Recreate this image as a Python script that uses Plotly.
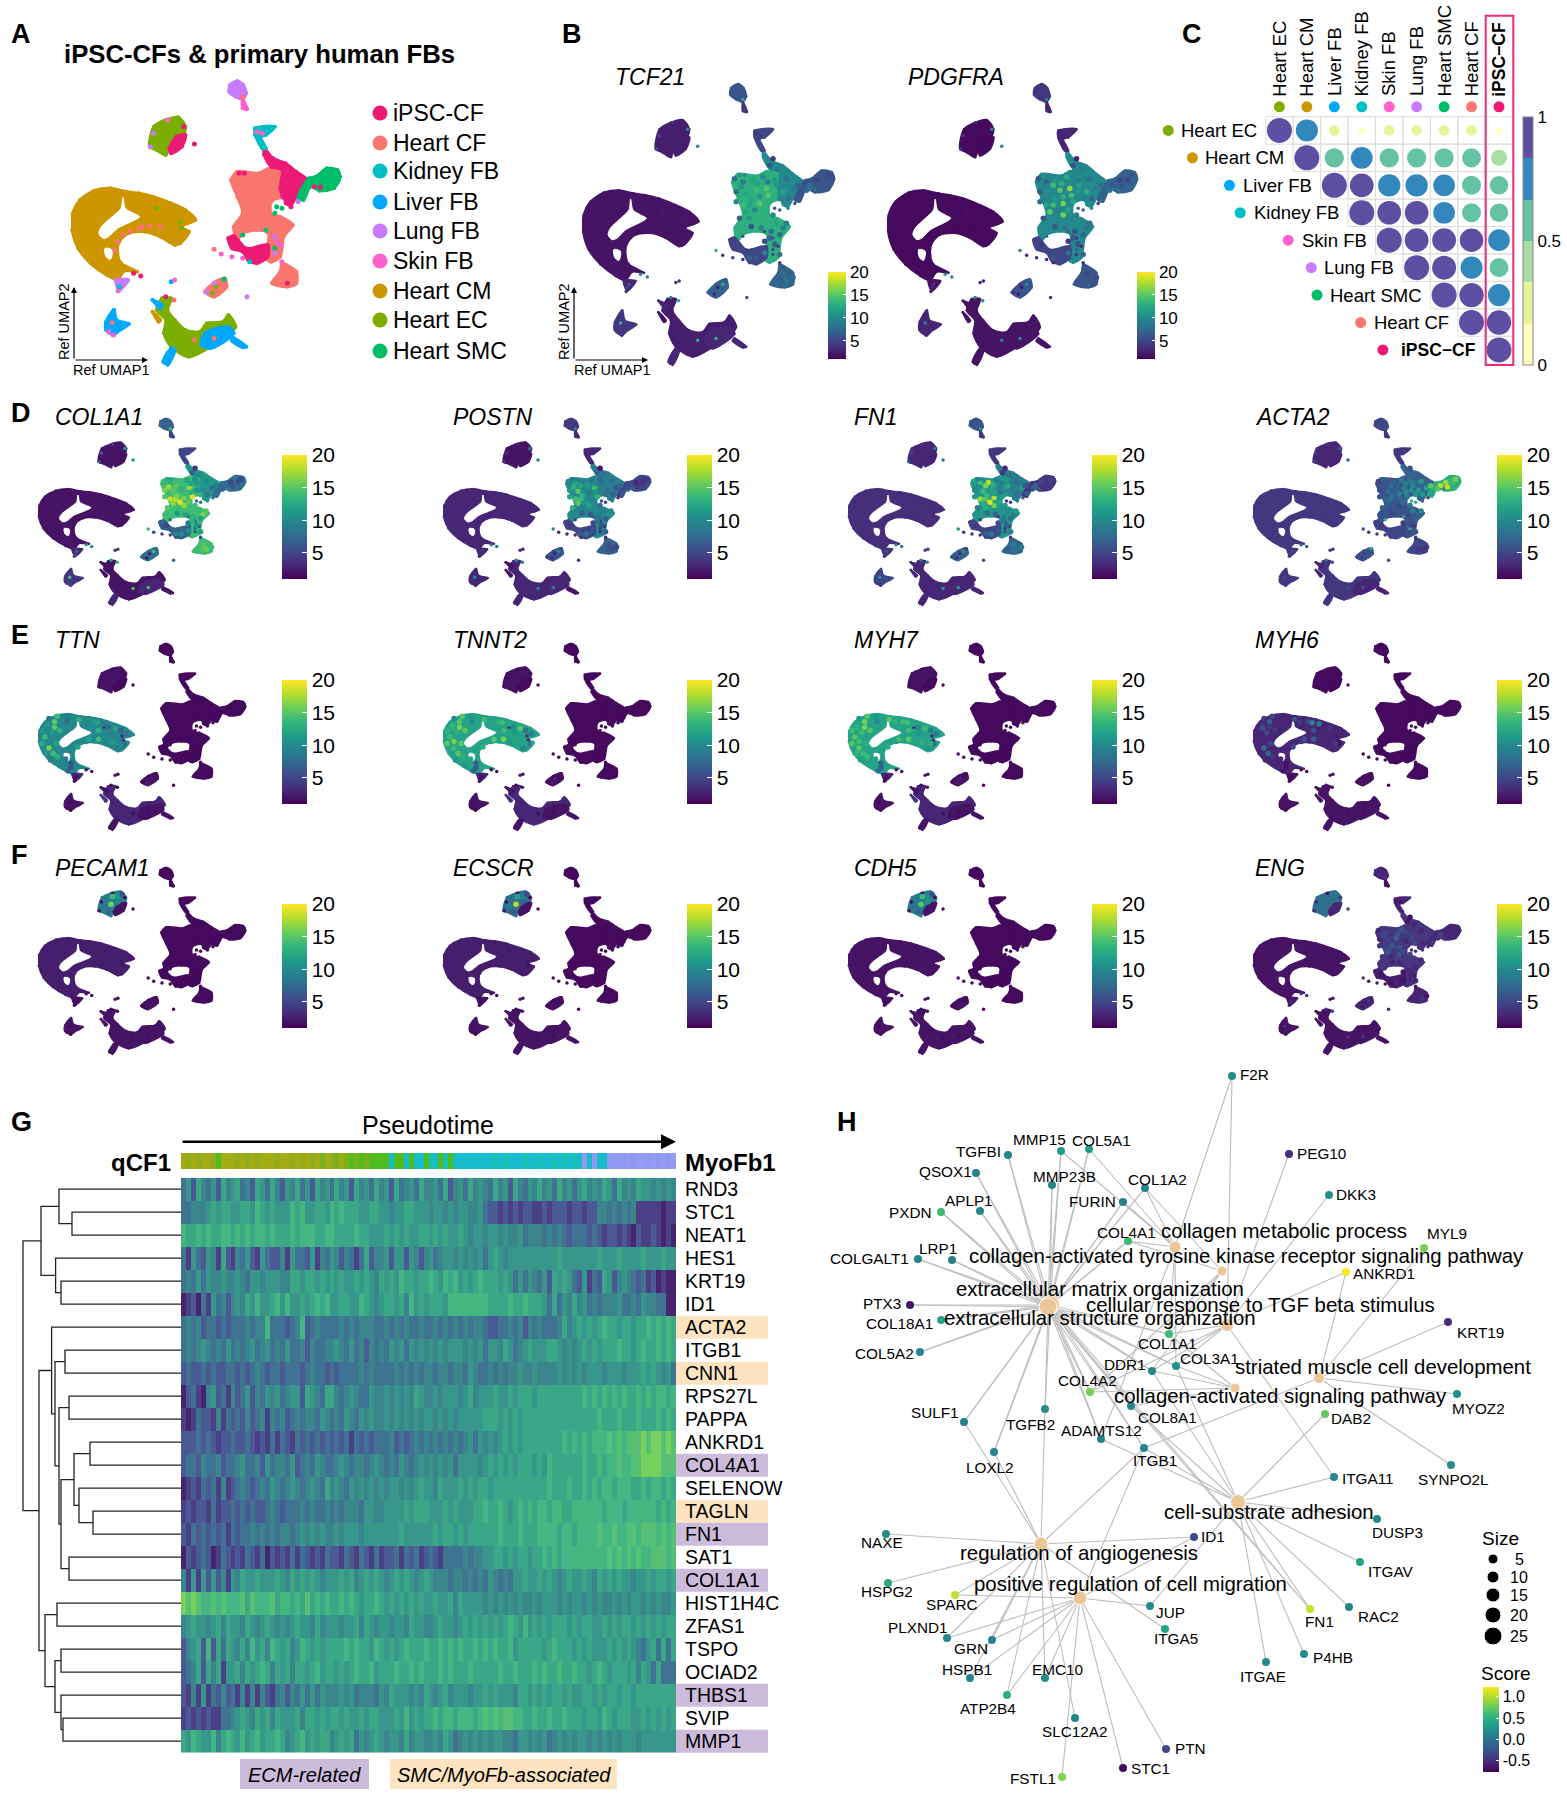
import plotly.graph_objects as go
from plotly.colors import sample_colorscale

W, H = 1567, 1800
FONT = "Liberation Sans"

# ---- UMAP regions (Ref UMAP coordinates) ----
cm_x = [355,310,265,225,205,203,220,255,300,330,350,385,340,330,335,360,405,450,490,505,530,505,548,520,480,430,390]
cm_y = [575,565,572,600,640,690,745,790,825,838,812,815,790,760,725,700,695,710,735,730,695,680,660,630,610,590,580]
hole_x = [345,340,310,285,278,290,305,330,375,392,375,352]
hole_y = [592,625,655,680,700,715,710,685,662,650,640,625]
hole2_x = [295,315,310,298]
hole2_y = [745,750,778,770]
hole3_x = [765,792,785,765]
hole3_y = [608,600,640,640]
cf_x = [648,665,725,750,785,795,760,785,820,795,785,760,745,752,720,680,665,655,680,665]
cf_y = [540,515,520,507,510,590,640,650,675,710,770,785,775,700,690,700,720,680,640,590]
ipsc_up_x = [740,765,800,830,865,830,815,800,785,790,760,740]
ipsc_up_y = [445,475,490,515,545,590,615,610,565,510,500,465]
ipsc_low_x = [640,655,690,750,750,720,695,680,650]
ipsc_low_y = [715,708,745,735,770,790,780,755,745]
smc_x = [885,915,945,953,935,895,870,850,835,865]
smc_y = [530,505,510,530,565,572,560,600,595,535]
kidney_x = [715,770,745,730,745,735,715]
kidney_y = [385,380,405,410,445,445,405]
lung_x = [645,665,682,690,680,660,642]
lung_y = [255,243,255,280,297,290,275]
skin_tail_x = [680,692,680]
skin_tail_y = [297,328,325]
ec_top_x = [432,465,500,520,510,475,465,440,420]
ec_top_y = [380,360,352,380,410,440,465,450,440]
ipsc_top_x = [495,520,510,480,475]
ipsc_top_y = [410,405,440,460,445]
cf_low_x = [790,802,830,830,805,762,785]
cf_low_y = [790,795,815,850,860,850,815]
mid_x = [575,605,630,635,600]
mid_y = [875,845,835,860,890]
ec_bot_x = [455,480,470,490,520,560,580,625,640,660,640,590,530,480,460,465,440]
ec_bot_y = [895,895,930,960,990,995,970,965,945,980,1005,1040,1070,1040,1000,960,930]
liver_r_x = [575,640,655,590,565]
liver_r_y = [1000,980,1000,1045,1035]
liver_tail_x = [655,690,680,650]
liver_tail_y = [1015,1040,1042,1022]
liver_low_x = [480,490,470,458]
liver_low_y = [1045,1050,1095,1085]
liver_blob_x = [320,328,362,330,320,298,298]
liver_blob_y = [930,960,972,995,1005,990,965]
cm_tip_x = [325,360,335]
cm_tip_y = [840,840,870]
liver_nub_x = [428,455,450]
liver_nub_y = [900,915,925]
cm_nub_x = [428,450,445]
cm_nub_y = [935,960,965]

REGION_X = [cm_x, cf_x, ipsc_up_x, ipsc_low_x, smc_x, kidney_x, lung_x, skin_tail_x, ec_top_x, ipsc_top_x,
            cf_low_x, mid_x, ec_bot_x, liver_r_x, liver_tail_x, liver_low_x, liver_blob_x, cm_tip_x, liver_nub_x, cm_nub_x]
REGION_Y = [cm_y, cf_y, ipsc_up_y, ipsc_low_y, smc_y, kidney_y, lung_y, skin_tail_y, ec_top_y, ipsc_top_y,
            cf_low_y, mid_y, ec_bot_y, liver_r_y, liver_tail_y, liver_low_y, liver_blob_y, cm_tip_y, liver_nub_y, cm_nub_y]
REGION_CLUSTER = ["Heart CM", "Heart CF", "iPSC-CF", "iPSC-CF", "Heart SMC", "Kidney FB", "Lung FB", "Skin FB", "Heart EC", "iPSC-CF",
                  "Heart CF", "Heart CF", "Heart EC", "Liver FB", "Liver FB", "Liver FB", "Liver FB", "Lung FB", "Liver FB", "Heart CM"]
HOLES = [(hole_x, hole_y), (hole2_x, hole2_y), (hole3_x, hole3_y)]

CLUSTERS = ["iPSC-CF", "Heart CF", "Kidney FB", "Liver FB", "Lung FB", "Skin FB", "Heart CM", "Heart EC", "Heart SMC"]
CLUSTER_COLORS = ["#EB1A75", "#F8766D", "#00BFC4", "#00A9FF", "#C77CFF", "#FF61CC", "#CD9600", "#7CAE00", "#00BE67"]
COLOR_OF = dict(zip(CLUSTERS, CLUSTER_COLORS))
COLOR_OF["CM arc"] = "#F8766D"
# which region value a stray cell takes in the feature plots
REGION_OF = {"Heart CM": 0, "CM arc": 0, "Heart CF": 1, "iPSC-CF": 2, "Heart SMC": 4, "Kidney FB": 5, "Lung FB": 6, "Skin FB": 7, "Heart EC": 12, "Liver FB": 16}

# stray cells around the clusters
stray_x = [545,515,680,690,735,600,620,650,680,700,692,480,490,670,685,880,897,815,835,775,770,790,680,745,770,775,770,770,785,790,805,375,395,340,332,335,315,305,318,465,488,545,600,510,450,400,345,365,390,420,330,322,605,595,620,628,580,600,430,422,470,720,440,505]
stray_y = [432,380,290,325,400,748,762,770,775,785,890,845,840,520,520,560,562,620,605,620,640,625,705,690,710,725,745,760,735,785,850,820,828,850,872,860,968,995,1005,890,900,1020,1015,685,680,680,705,695,685,678,725,750,860,880,850,838,875,850,400,440,360,395,625,665]
stray_cluster = ["iPSC-CF","iPSC-CF","Heart CF","Skin FB","Skin FB","Heart CF","Skin FB","Skin FB","Skin FB","Kidney FB","Lung FB","Liver FB","Skin FB","iPSC-CF","iPSC-CF","iPSC-CF","iPSC-CF","iPSC-CF","Lung FB","Heart SMC","Heart SMC","Heart SMC","Heart SMC","Heart SMC","Lung FB","Skin FB","Heart SMC","Lung FB","Skin FB","Skin FB","iPSC-CF","iPSC-CF","iPSC-CF","Lung FB","Skin FB","Kidney FB","Heart CF","Skin FB","Skin FB","iPSC-CF","Heart CF","Heart CF","Heart CF","Heart EC","CM arc","CM arc","CM arc","CM arc","CM arc","CM arc","CM arc","CM arc","Heart EC","Heart EC","Heart CF","Heart SMC","Lung FB","Lung FB","Lung FB","Lung FB","Skin FB","Skin FB","Heart EC","Heart EC"]

# ---- feature plots: expression per region ----
tcf21_vals = [2,13,10,5,6,5,6,4,2.5,2.5,7,7,2.5,3,3,3,4,3,3,2]
pdgfra_vals = [1.5,10,10,5,7,3,4,3,1.5,1.5,6,6,2,2,2,2,3,2,2,2]
col1a1_vals = [2,14,11,7,8,5,7,5,2,2,14,8,2,3,2,3,4,3,2,2]
postn_vals = [3,10,9,5,5,3,4,3,2,2,7,6,3,3,2,3,3,3,2,2]
fn1_vals = [3.5,11,9,5,4,4,6,4,3,3,7,7,3,3,3,3,5,4,3,3]
acta2_vals = [4,6,7,5,13,4,5,4,3,3,5,6,4,3,3,4,4,4,3,3]
ttn_vals = [10,1.5,1.5,1.5,1.5,1.5,1.5,1.5,2,1.5,1.5,2,3,2,2,2,2,3,2,4]
tnnt2_vals = [12,1.5,1.5,1.5,1.5,1.5,1.5,1.5,2,1.5,1.5,2,3,2,2,2,2,3,2,4]
myh7_vals = [12,1.5,1.5,1.5,1.5,1.5,1.5,1.5,2,1.5,1.5,2,3,2,2,2,2,3,2,4]
myh6_vals = [3,1.5,1.5,1.5,1.5,1.5,1.5,1.5,1.5,1.5,1.5,2,2,2,2,2,2,2,2,2]
pecam1_vals = [2.5,1.5,1.5,1.5,1.5,1.5,1.5,1.5,9,2,1.5,2,2,2,2,2,2,2,2,2]
ecscr_vals = [2.5,1.5,1.5,1.5,1.5,1.5,1.5,1.5,8,2,1.5,2,2,2,2,2,2,2,2,2]
cdh5_vals = [2,1.5,1.5,1.5,1.5,1.5,1.5,1.5,9,2,1.5,2,2,2,2,2,2,2,2,2]
eng_vals = [2,4,4,2.5,3,3,3,2,8,3,3,3,2,2,2,2,2,2,2,2]

fb_spot_x = [680,710,740,770,660,690,720,750,780,810,830,700,730,760,790,670,700,730,770,800,705,735,765,745,775,790,800,810,845,880,900,925,770,785,
             655,675,700,725,755,775,660,680,705,730,755,775,800,815,690,715,745,780,810,790,760,745,800,830,850,870,905,935,760,720,700,665]
fb_spot_y = [540,535,525,520,570,575,565,560,550,530,560,610,605,600,590,650,650,640,640,680,675,680,690,720,730,760,820,840,550,550,535,535,470,500,
             530,555,550,545,540,535,600,610,595,585,580,570,570,590,630,625,625,665,665,700,710,755,845,830,585,565,555,520,490,770,770,730]
cm_spot_x = [235,260,290,225,250,280,305,240,265,240,270,300,320,350,400,440,480,520,375,420,470,510,420,460,500,345,
             215,240,270,300,215,235,260,230,255,245,280,310,370,415,455,500,385,440,490,320]
cm_spot_y = [620,600,585,670,650,640,600,720,700,690,760,770,810,590,600,610,630,655,690,680,695,700,640,650,700,715,
             640,585,575,575,700,630,625,745,745,775,800,825,600,605,625,640,680,690,720,790]
ec_spot_x = [450,470,490,440,465,490,455,505]
ec_spot_y = [385,375,375,420,410,400,445,365]

tcf21_spots = [9,12,10,13,8,12,14,15,11,8,9,12,15,13,10,7,11,13,10,9,6,9,8,5,7,8,8,9,7,8,5,6,4,9,
               8,11,13,12,9,11,10,14,12,11,15,13,12,8,12,10,13,12,9,8,7,9,7,8,6,7,6,5,6,6,7,5]
pdgfra_spots = [7,11,13,10,7,10,15,17,12,8,9,14,16,12,9,6,10,16,9,8,6,8,6,4,6,7,5,6,8,6,5,5,3,9,
                6,9,14,13,10,9,8,12,11,13,14,11,13,7,15,9,12,10,8,7,6,8,6,5,7,8,6,6,6,5,6,4]
col1a1_spots = [13,14,12,10,16,15,13,17,12,10,8,18,16,19,13,15,14,17,14,16,11,12,13,9,11,12,15,16,9,8,5,6,4,10,
                14,17,15,14,12,11,15,18,16,14,13,11,10,9,17,19,15,14,15,12,13,10,15,14,8,7,6,5,7,10,9,5]
postn_spots = [12,9,8,7,11,15,10,14,9,8,6,14,10,13,8,13,9,12,8,11,7,6,8,5,6,7,6,5,7,6,3,4,2,8,
               10,13,12,11,10,8,12,14,13,9,11,9,8,7,15,11,10,9,10,7,8,6,6,5,6,6,4,4,7,8,6,4]
fn1_spots = [14,18,9,11,10,14,12,9,13,8,11,15,18,12,10,9,13,16,11,9,8,7,9,5,7,9,9,8,6,7,5,4,3,8,
             12,10,16,13,9,11,11,17,14,12,8,10,9,8,13,19,12,10,11,8,9,6,8,9,7,6,4,5,4,8,7,4]
acta2_spots = [6,7,9,8,5,8,7,9,10,11,12,8,7,9,11,7,6,5,8,7,5,6,5,4,5,6,5,4,15,18,17,14,6,7,
               5,6,8,7,9,9,6,7,8,9,10,10,11,11,7,6,8,9,10,7,6,5,4,4,12,15,18,16,7,5,5,4]
eng_spots = [5,4,6,4,3,5,7,4,5,3,4,5,6,4,5,4,3,6,5,4,3,3,4,2,3,3,3,4,4,5,3,3,2,3,
             3,5,4,6,5,4,4,5,6,4,3,5,4,3,6,4,5,4,3,3,3,2,3,2,4,4,3,3,2,3,2,2]
ttn_spots = [12,15,10,14,11,13,8,16,12,10,13,9,6,13,11,9,12,8,10,14,11,7,13,9,10,12,
             11,8,14,9,13,10,15,11,14,9,10,7,10,12,8,7,12,10,9,6]
tnnt2_spots = [14,15,12,14,13,15,10,14,15,16,13,12,7,14,13,12,15,9,12,16,12,8,14,11,12,13,
               13,10,15,11,15,13,16,12,15,11,11,7,12,14,10,8,15,11,10,7]
myh7_spots = [13,16,12,15,14,15,10,15,13,14,14,12,7,15,14,12,14,9,12,15,13,8,14,11,13,13,
              14,11,15,11,15,13,16,13,14,12,12,8,13,14,10,9,14,12,11,7]
myh6_spots = [4,7,3,3,5,4,3,8,5,3,4,3,2,6,5,9,4,3,4,7,3,2,6,3,4,5,
              3,4,5,3,3,6,4,3,7,3,3,2,4,9,3,3,6,3,3,2]
pecam1_spots = [9,14,11,8,16,10,7,6]
ecscr_spots = [8,12,9,9,18,7,6,5]
cdh5_spots = [9,14,10,8,15,11,7,6]

# ---- panel C: correlation ----
corr_labels = ["Heart EC", "Heart CM", "Liver FB", "Kidney FB", "Skin FB", "Lung FB", "Heart SMC", "Heart CF", "iPSC\u2212CF"]
corr_clusters = ["Heart EC", "Heart CM", "Liver FB", "Kidney FB", "Skin FB", "Lung FB", "Heart SMC", "Heart CF", "iPSC-CF"]
corr_rows = [
    [1.0, .78, .18, .07, .18, .17, .18, .18, .07],
    [1.0, .6, .76, .6, .6, .6, .58, .42],
    [1.0, .9, .8, .8, .75, .58, .55],
    [1.0, .9, .9, .75, .58, .55],
    [1.0, .9, .9, .88, .75],
    [1.0, .92, .78, .58],
    [1.0, .95, .78],
    [1.0, .95],
    [1.0],
]
corr_dot_offset = [3.55, 3.67, 3.32, 3.93, 3.18, 3.34, 4.13, 3.54, 3.73]
corr_bins = ["#FFFFBF", "#E6F598", "#ABDDA4", "#66C2A5", "#3288BD", "#5E4FA2"]

# ---- panel G: pseudotime heatmap ----
genes_g = ["RND3","STC1","NEAT1","HES1","KRT19","ID1","ACTA2","ITGB1","CNN1","RPS27L","PAPPA","ANKRD1","COL4A1",
           "SELENOW","TAGLN","FN1","SAT1","COL1A1","HIST1H4C","ZFAS1","TSPO","OCIAD2","THBS1","SVIP","MMP1"]
smc_genes = ["ACTA2", "CNN1", "TAGLN"]
ecm_genes = ["COL4A1", "FN1", "COL1A1", "THBS1", "MMP1"]
heat_rows = [
    "3526435264 5634265364 2546352645 3645264536 4526345364 4536245364 5436452643 5464536453 5645465364 5465545454",
    "3344456566 5566576565 5576755665 7676665566 5545566555 4554545544 5322121212 2112122212 2122443434 3411111011",
    "7667676677 6767677676 6676777667 7666676655 5656565566 5656556545 5455454453 4443434323 3323212212 1021121010",
    "3153254162 1435215322 4153325143 5424313624 4525525424 5345545454 5356545555 5555556555 5555655565 5556555655",
    "3435354454 4543554555 4466566565 6565565654 6565766566 7657675656 7666565353 5435265653 2513265245 4323120100",
    "0120315342 4546575567 5755656767 5566557654 5665647565 6665777777 7766667667 6665363546 4534344453 3435443300",
    "3434233232 3334344733 3234723433 3343434443 3434343343 3434343434 4322334342 4343334645 6565676656 6566767676",
    "3434543435 3434534534 3533424334 4543534243 4354535454 5454555454 5355465345 6555665454 5656566676 6567667676",
    "2322323223 3232343233 2333234332 3233334343 3334343434 4344344354 3343434454 4544445454 5455545554 5556565453",
    "0231045231 4235243545 3455265436 6434543354 4545454654 4545554564 5556556566 6566666666 6767676767 6676767767",
    "1013221413 2324234143 4234344354 3435435454 4545454545 5454545555 5666565656 6666666666 6666766676 6676667676",
    "2223232122 3223212131 3213232323 2323132323 3342323434 3434343453 5454565656 6666666767 6767778787 8889899898",
    "2332433423 3453342534 4352343543 3454344345 4343543454 5454535555 4565656566 6565766666 6766767787 7889999888",
    "0121323141 2343234354 3454345436 4543545454 5455454565 5465556565 6656666666 6666766676 6767677677 7667677676",
    "1212213122 3232322343 2333434334 3434443554 4555565666 5556565556 6766765676 7677677667 7777767776 7777776767",
    "2132323231 3233434343 4434545454 4545554555 5555655555 5656656566 6666766676 6677776776 7777877877 8878887878",
    "0212320132 1213213021 2131321213 2213213213 1223132312 3213333434 4556656566 5667676777 7777778787 8787788878",
    "4151525241 5465565556 5465656545 5565645656 5456565456 5444344343 4354343556 5565654565 5654656565 5455656656",
    "9898778787 7786877786 7767686767 6676765667 6565656565 5655646555 5454545454 4545554545 5454544545 4554545445",
    "4565545646 5546545654 5456554645 5545564654 5545546554 4565545656 5656567657 5656566656 5665565656 6565656566",
    "2456272636 5464756476 5645765656 6667676657 6565676667 6676767667 6767667566 6665676665 6565556565 6543563636",
    "2346264615 5646567646 5646656756 6565676675 6667667676 6676766676 6666766766 6767667667 6656765666 5646536333",
    "2141513242 3141414213 4243535354 4454534443 5465554546 5456455545 5656555466 5656566565 5665656656 6566666666",
    "1212121133 4565465646 5556466565 6656556566 5556575656 6767767776 7878788776 6766766766 6566576566 6556565656",
    "6576557467 6575675667 6456756566 4565635456 5455464554 4546534545 4545544355 4545345454 5545454545 5545555555",
]
heat_colors = ["#46256F", "#4B3F85", "#4A5A95", "#3F7391", "#3B858C", "#38968A", "#3CA786", "#45B682", "#58C074", "#78D05C"]
pseudo_states = "0101001300 0101010001 0010101020 1202323233 3343343443 5435344444 4445454445 4454454545 4646446666 7677676767"
pseudo_colors = ["#A3AD12", "#93AA1C", "#78B01C", "#4EBC1C", "#16BCCB", "#1AC0B4", "#8F9AEE", "#939BF5"]

# merges: left node, right node, height. Leaves are rows 0-24, new nodes count on from 25.
dendro_merges = [(1,2,72),(0,25,59),(4,5,61),(3,27,55.6),(26,28,41),(7,8,65),(9,10,69),(11,12,90),(14,15,93),(13,33,79),
                 (32,34,74),(16,17,69),(35,36,61),(31,37,59),(30,38,55),(6,39,51.6),(18,19,57),(20,21,61),(23,24,63),
                 (22,43,61),(42,44,55),(41,45,45),(40,46,39),(29,47,23)]

# ---- panel H: gene-concept network ----
gene_nodes = {
    "F2R": (1232,1076,.25,1254,1074), "PEG10": (1289,1154,-.5,1321,1153), "DKK3": (1329,1195,.2,1356,1194),
    "MYL9": (1424,1248,.8,1447,1233), "ANKRD1": (1346,1272,1.22,1384,1273), "KRT19": (1448,1322,-.5,1480,1332),
    "MYOZ2": (1457,1394,.2,1478,1408), "DAB2": (1325,1414,.75,1351,1418), "SYNPO2L": (1451,1465,.2,1453,1479),
    "ITGA11": (1334,1477,.15,1368,1478), "COL5A1": (1089,1149,.35,1101,1140), "MMP15": (1061,1151,.35,1039,1139),
    "TGFBI": (1008,1155,.15,978,1151), "QSOX1": (976,1173,.15,945,1171), "MMP23B": (1052,1185,.15,1064,1176),
    "COL1A2": (1145,1188,.15,1157,1179), "FURIN": (1123,1202,.1,1092,1201), "APLP1": (980,1211,.15,969,1200),
    "PXDN": (941,1212,.6,910,1212), "COL4A1": (1128,1241,.6,1126,1232), "LRP1": (952,1260,.1,938,1248),
    "COLGALT1": (918,1259,.15,869,1258), "PTX3": (910,1305,-.65,882,1303), "COL18A1": (941,1320,.4,899,1323),
    "COL5A2": (920,1352,.15,884,1353), "COL1A1": (1169,1334,.6,1167,1343), "COL3A1": (1176,1366,.25,1209,1358),
    "DDR1": (1152,1371,.15,1125,1364), "COL4A2": (1090,1392,.8,1087,1380), "COL8A1": (1131,1406,.15,1167,1417),
    "TGFB2": (1045,1409,.2,1030,1424), "SULF1": (964,1422,.1,935,1412), "ADAMTS12": (1101,1439,.1,1101,1430),
    "ITGB1": (1144,1448,.15,1155,1460), "LOXL2": (994,1452,.15,990,1467), "NAXE": (886,1534,.2,882,1542),
    "HSPG2": (888,1583,.45,887,1591), "SPARC": (955,1595,1.05,952,1604), "PLXND1": (947,1638,.15,918,1627),
    "GRN": (992,1640,.15,971,1648), "HSPB1": (970,1678,.15,967,1669), "EMC10": (1045,1678,.2,1057,1669),
    "ATP2B4": (1007,1695,.5,988,1708), "SLC12A2": (1075,1718,.15,1074,1731), "FSTL1": (1062,1777,.85,1033,1778),
    "STC1": (1123,1768,-.72,1150,1768), "PTN": (1166,1749,-.3,1190,1748), "JUP": (1150,1606,.2,1170,1612),
    "ITGA5": (1165,1629,.4,1176,1638), "ID1": (1194,1537,-.3,1213,1536), "DUSP3": (1377,1519,.15,1397,1532),
    "ITGAV": (1360,1562,.4,1391,1571), "RAC2": (1349,1607,.15,1378,1616), "FN1": (1310,1609,1.05,1319,1621),
    "P4HB": (1304,1654,.2,1333,1657), "ITGAE": (1266,1662,.2,1263,1676),
}
term_names = ["collagen metabolic process", "collagen-activated tyrosine kinase receptor signaling pathway",
              "extracellular matrix organization", "extracellular structure organization",
              "cellular response to TGF beta stimulus", "striated muscle cell development",
              "collagen-activated signaling pathway", "cell-substrate adhesion",
              "regulation of angiogenesis", "positive regulation of cell migration"]
term_x = [1175,1222,1050,1048,1227,1319,1235,1238,1041,1080]
term_y = [1247,1271,1305,1307,1325,1378,1388,1502,1544,1598]
term_label_x = [1284,1246,1100,1100,1260,1383,1280,1269,1079,1130]
term_label_y = [1231,1256,1289,1318,1305,1367,1396,1512,1553,1584]
term_size = [12,10,19,18,13,11,10,15,14,14]

edges_metabolic = ["F2R","MMP15","COL5A1","FURIN","COL1A2","COL4A1","COL1A1","COL3A1","ADAMTS12"]
edges_tyrosine = ["COL1A2","COL4A1","COL1A1","DDR1","COL4A2"]
ecm_common = ["TGFBI","QSOX1","PXDN","APLP1","COLGALT1","LRP1","PTX3","COL18A1","COL5A2","MMP15","COL5A1","MMP23B","COL1A2",
              "FURIN","COL4A1","COL1A1","COL3A1","DDR1","COL4A2","COL8A1","TGFB2","SULF1","LOXL2","ADAMTS12","ITGB1","FN1"]
edges_tgf = ["PEG10","DKK3","ANKRD1","COL1A1","COL3A1","DDR1","ITGA11","COL4A2","F2R"]
edges_striated = ["MYL9","ANKRD1","KRT19","MYOZ2","SYNPO2L","ITGB1"]
edges_signaling = ["COL1A1","COL3A1","DDR1","COL4A2","COL8A1"]
edges_substrate = ["ITGB1","ITGA11","DUSP3","ITGAV","RAC2","FN1","P4HB","ITGAE","DAB2","JUP","DDR1","COL8A1","COL3A1","ADAMTS12"]
edges_angio = ["NAXE","HSPG2","SPARC","PLXND1","GRN","ATP2B4","SLC12A2","EMC10","ITGB1","LOXL2","SULF1","TGFB2","ID1","ITGA5","HSPB1"]
edges_migration = ["SPARC","PLXND1","GRN","HSPB1","EMC10","ATP2B4","FSTL1","STC1","PTN","JUP","ID1","ITGB1"]
term_edges = [edges_metabolic, edges_tyrosine, ecm_common, ecm_common, edges_tgf, edges_striated,
              edges_signaling, edges_substrate, edges_angio, edges_migration]

size_legend = [5, 10, 15, 20, 25]
size_legend_y = [1559, 1577, 1595, 1615, 1636]
size_legend_d = [10, 12, 14, 16, 18]

# ---- helpers ----
fig = go.Figure()
annotations = []
shapes = []
axis_count = 0


def new_axes(x0, x1, y0, y1, xrange, yrange):
    global axis_count
    axis_count += 1
    n = axis_count
    hidden = dict(visible=False, fixedrange=True)
    fig.update_layout({
        f"xaxis{n}": dict(domain=[x0 / W, x1 / W], range=xrange, anchor=f"y{n}", **hidden),
        f"yaxis{n}": dict(domain=[1 - y1 / H, 1 - y0 / H], range=yrange, anchor=f"x{n}", **hidden),
    })
    return f"x{n}", f"y{n}"


def add_text(x, y, s, size=14, anchor="left", color="black", **kw):
    if anchor == "left":
        x -= 1.5
    annotations.append(dict(x=x / W, y=1 - y / H, xref="paper", yref="paper", text=s, showarrow=False,
                            xanchor=anchor, yanchor="middle", font=dict(size=size, family=FONT, color=color), **kw))


def add_arrow(x, y, dx, dy, width=1.2, size=1.0):
    annotations.append(dict(x=x / W, y=1 - y / H, xref="paper", yref="paper", text="", showarrow=True,
                            axref="pixel", ayref="pixel", ax=dx, ay=dy, arrowhead=2, arrowwidth=width,
                            arrowsize=size, arrowcolor="black"))


def add_region(xa, ya, xs, ys, color, lw, ms):
    fig.add_trace(go.Scatter(x=xs + xs[:1], y=ys + ys[:1], xaxis=xa, yaxis=ya, mode="lines+markers", fill="toself",
                             fillcolor=color, line=dict(color=color, width=lw, shape="spline", smoothing=0.8),
                             marker=dict(size=ms, color=color), hoverinfo="skip", showlegend=False, cliponaxis=False))


def viridis(v):
    return sample_colorscale("Viridis", [(v - 1) / 19])[0]


UMAP_XR = [200, 955]
UMAP_YR = [1095, 240]


def feature_panel(rect, vals, spot_x, spot_y, spots, cbar_x, cbar_y, cbar_len, thick, tick_size, ms, lw):
    xa, ya = new_axes(rect[0], rect[1], rect[2], rect[3], UMAP_XR, UMAP_YR)
    for xs, ys, v in zip(REGION_X, REGION_Y, vals):
        add_region(xa, ya, xs, ys, viridis(v), lw, ms)
    for hx, hy in HOLES:
        add_region(xa, ya, hx, hy, "white", 1, 0.1)
    fig.add_trace(go.Scatter(x=stray_x, y=stray_y, xaxis=xa, yaxis=ya, mode="markers", hoverinfo="skip", showlegend=False,
                             marker=dict(size=ms + 1, color=[viridis(vals[REGION_OF[c]]) for c in stray_cluster]),
                             cliponaxis=False))
    fig.add_trace(go.Scatter(
        x=spot_x, y=spot_y, xaxis=xa, yaxis=ya, mode="markers", hoverinfo="skip", showlegend=False, cliponaxis=False,
        marker=dict(size=ms + 3, color=spots, cmin=1, cmax=20, colorscale="Viridis", showscale=True,
                    colorbar=dict(x=cbar_x / W, xanchor="left", y=1 - cbar_y / H, yanchor="top", len=cbar_len, lenmode="pixels",
                                  thickness=thick, thicknessmode="pixels", outlinewidth=0, borderwidth=0, xpad=0, ypad=0,
                                  tickvals=[5, 10, 15, 20], ticks="inside", ticklen=thick // 5, tickcolor="white",
                                  tickfont=dict(size=tick_size, family=FONT, color="black")))))


# ---- A ----
add_text(10, 34, "<b>A</b>", 27)
add_text(63, 54, "<b>iPSC-CFs &amp; primary human FBs</b>", 25.7)
xa, ya = new_axes(71, 341, 80, 365, UMAP_XR, UMAP_YR)
for xs, ys, c in zip(REGION_X, REGION_Y, REGION_CLUSTER):
    add_region(xa, ya, xs, ys, COLOR_OF[c], 3, 4)
for hx, hy in HOLES:
    add_region(xa, ya, hx, hy, "white", 1, 0.1)
fig.add_trace(go.Scatter(x=stray_x, y=stray_y, xaxis=xa, yaxis=ya, mode="markers", hoverinfo="skip", showlegend=False,
                         marker=dict(size=5, color=[COLOR_OF[c] for c in stray_cluster]), cliponaxis=False))
legend_y = [113, 143, 171, 202, 231, 261, 291, 320, 351]
xa, ya = new_axes(370, 390, 90, 370, [370, 390], [370, 90])
fig.add_trace(go.Scatter(x=[380] * 9, y=legend_y, xaxis=xa, yaxis=ya, mode="markers", hoverinfo="skip", showlegend=False,
                         marker=dict(size=15, color=CLUSTER_COLORS)))
for y, name in zip(legend_y, CLUSTERS):
    add_text(392, y, name, 23)
for ox, lx, ly, tx in [(74, 111, 322, 64), (574, 612, 322, 564)]:
    add_arrow(ox + 74, 360, -74, 0)
    add_arrow(ox, 287, 0, 73)
    add_text(lx, 370, "Ref UMAP1", 14.5, "center")
    add_text(tx, ly, "Ref UMAP2", 14.5, "center", textangle=-90)

# ---- B ----
add_text(561, 34, "<b>B</b>", 27)
add_text(614, 77, "<i>TCF21</i>", 23)
add_text(907, 77, "<i>PDGFRA</i>", 23)
feature_panel((582, 835, 83, 365), tcf21_vals, fb_spot_x, fb_spot_y, tcf21_spots, 828, 272, 87, 18, 17, 2.5, 2)
feature_panel((887, 1138, 83, 365), pdgfra_vals, fb_spot_x, fb_spot_y, pdgfra_spots, 1137, 272, 87, 18, 17, 2.5, 2)

# ---- C ----
add_text(1181, 34, "<b>C</b>", 27)
CELL = 27.444
xa, ya = new_axes(1150, 1512.7, 0, 363.7, [-0.5 - (1265.7 - 1150) / CELL, 8.5], [8.5, -0.5 - 116.7 / CELL])
dot_x, dot_y, dot_v = [], [], []
for i, row in enumerate(corr_rows):
    for k, v in enumerate(row):
        j = i + k
        dot_x.append(j)
        dot_y.append(i)
        dot_v.append(v)
        shapes.append(dict(type="rect", xref=xa, yref=ya, x0=j - .5, x1=j + .5, y0=i - .5, y1=i + .5,
                           line=dict(color="#DDDDDD", width=1), layer="below"))
bin_scale = []
for k, c in enumerate(corr_bins):
    bin_scale += [[k / 6, c], [(k + 1) / 6, c]]
fig.add_trace(go.Scatter(
    x=dot_x, y=dot_y, xaxis=xa, yaxis=ya, mode="markers", hoverinfo="skip", showlegend=False, cliponaxis=False,
    marker=dict(size=dot_v, sizemode="area", sizeref=0.0032, opacity=1, color=dot_v, cmin=0, cmax=1, colorscale=bin_scale, line=dict(width=0),
                showscale=True,
                colorbar=dict(x=1523 / W, xanchor="left", y=1 - 117 / H, yanchor="top", len=248, lenmode="pixels", thickness=9.5,
                              thicknessmode="pixels", outlinewidth=1, outlinecolor="#888888", xpad=0, ypad=0,
                              tickvals=[0, .5, 1], ticktext=["0", "0.5", "1"], ticks="",
                              tickfont=dict(size=17, family=FONT, color="black")))))
# cluster dots along both margins of the triangle
fig.add_trace(go.Scatter(x=list(range(9)), y=[-0.86] * 9, xaxis=xa, yaxis=ya, mode="markers", hoverinfo="skip", showlegend=False,
                         cliponaxis=False, marker=dict(size=11, color=[COLOR_OF[c] for c in corr_clusters])))
fig.add_trace(go.Scatter(x=[i - .5 - o for i, o in enumerate(corr_dot_offset)], y=list(range(9)), xaxis=xa, yaxis=ya, mode="markers",
                         hoverinfo="skip", showlegend=False, cliponaxis=False,
                         marker=dict(size=11, color=[COLOR_OF[c] for c in corr_clusters])))
for i, name in enumerate(corr_labels):
    bold = i == 8
    label = f"<b>{name}</b>" if bold else name
    annotations.append(dict(x=i - .75, y=i, xref=xa, yref=ya, text=label, showarrow=False, xanchor="right", yanchor="middle",
                            font=dict(size=17.5 if bold else 18.5, family=FONT, color="black")))
    annotations.append(dict(x=i, y=-1.17, xref=xa, yref=ya, text=label, showarrow=False, xanchor="center", yanchor="bottom",
                            textangle=-90, font=dict(size=17.5 if bold else 18.5, family=FONT, color="black")))
shapes.append(dict(type="rect", xref="paper", yref="paper", x0=1485.7 / W, x1=1513.3 / W, y0=1 - 365 / H, y1=1 - 15.7 / H,
                   line=dict(color="#EE2A7B", width=2)))

# ---- D, E, F ----
col_left = [38, 443, 848, 1253]
col_title = [54, 453, 853, 1254]
row_top = [418, 643, 867]
row_title = [417, 640, 868]
row_letters = [("D", 413), ("E", 635), ("F", 855)]
panel_genes = [
    [("COL1A1", col1a1_vals, fb_spot_x, fb_spot_y, col1a1_spots), ("POSTN", postn_vals, fb_spot_x, fb_spot_y, postn_spots),
     ("FN1", fn1_vals, fb_spot_x, fb_spot_y, fn1_spots), ("ACTA2", acta2_vals, fb_spot_x, fb_spot_y, acta2_spots)],
    [("TTN", ttn_vals, cm_spot_x, cm_spot_y, ttn_spots), ("TNNT2", tnnt2_vals, cm_spot_x, cm_spot_y, tnnt2_spots),
     ("MYH7", myh7_vals, cm_spot_x, cm_spot_y, myh7_spots), ("MYH6", myh6_vals, cm_spot_x, cm_spot_y, myh6_spots)],
    [("PECAM1", pecam1_vals, ec_spot_x, ec_spot_y, pecam1_spots), ("ECSCR", ecscr_vals, ec_spot_x, ec_spot_y, ecscr_spots),
     ("CDH5", cdh5_vals, ec_spot_x, ec_spot_y, cdh5_spots), ("ENG", eng_vals, fb_spot_x, fb_spot_y, eng_spots)],
]
for r, row in enumerate(panel_genes):
    add_text(10, row_letters[r][1], f"<b>{row_letters[r][0]}</b>", 27)
    for c, (name, vals, sx, sy, spots) in enumerate(row):
        add_text(col_title[c], row_title[r], f"<i>{name}</i>", 23)
        feature_panel((col_left[c], col_left[c] + 208, row_top[r], row_top[r] + 187), vals, sx, sy, spots,
                      282 + 405 * c, row_top[r] + 37, 124, 25, 21, 2.5, 2)

# ---- G ----
add_text(10, 1122, "<b>G</b>", 27)
add_text(428, 1125, "Pseudotime", 25, "center")
add_arrow(676, 1141.7, -495, 0, 2.5, 1.2)
add_text(173, 1162, "<b>qCF1</b>", 24, "right")
add_text(684, 1162, "<b>MyoFb1</b>", 24)

heat = [r.replace(" ", "") for r in heat_rows]
n_cols = min(len(r) for r in heat)
heat_z = [[int(ch) for ch in r[:n_cols]] for r in heat]
xa, ya = new_axes(181, 676, 1177.7, 1752.7, [-0.5, n_cols - 0.5], [24.5, -0.5])
heat_scale = [[k / 9, c] for k, c in enumerate(heat_colors)]
fig.add_trace(go.Heatmap(z=heat_z, xaxis=xa, yaxis=ya, zmin=0, zmax=9, colorscale=heat_scale, showscale=False, hoverinfo="skip",
                         zsmooth=False))
states = [int(ch) for ch in pseudo_states.replace(" ", "")]
xa2, ya2 = new_axes(181, 676, 1153, 1169, [-0.5, len(states) - 0.5], [-0.5, 0.5])
n_states = len(pseudo_colors)
state_scale = []
for k, c in enumerate(pseudo_colors):
    state_scale += [[k / n_states, c], [(k + 1) / n_states, c]]
fig.add_trace(go.Heatmap(z=[states], xaxis=xa2, yaxis=ya2, zmin=-.5, zmax=n_states - .5, colorscale=state_scale, showscale=False,
                         hoverinfo="skip"))
for i, g in enumerate(genes_g):
    y = 1189.2 + 23 * i
    if g in smc_genes or g in ecm_genes:
        shapes.append(dict(type="rect", xref="paper", yref="paper", x0=676 / W, x1=768 / W, y0=1 - (y + 11.5) / H, y1=1 - (y - 11.5) / H,
                           fillcolor="#FDE3C0" if g in smc_genes else "#CDBBDC", line=dict(width=0), layer="below"))
    add_text(684, y, g, 19.5)
shapes.append(dict(type="rect", xref="paper", yref="paper", x0=240 / W, x1=369 / W, y0=1 - 1789 / H, y1=1 - 1759 / H,
                   fillcolor="#CDBBDC", line=dict(width=0), layer="below"))
shapes.append(dict(type="rect", xref="paper", yref="paper", x0=390 / W, x1=617 / W, y0=1 - 1789 / H, y1=1 - 1759 / H,
                   fillcolor="#FDE3C0", line=dict(width=0), layer="below"))
add_text(304, 1775, "<i>ECM-related</i>", 20, "center")
add_text(504, 1775, "<i>SMC/MyoFb-associated</i>", 20, "center")

# dendrogram, leaves reach the heatmap's left edge
xa3, ya3 = new_axes(0, 181, 1177.7, 1752.7, [0, 181], [24.5, -0.5])
node_pos = {i: (181, float(i)) for i in range(25)}
den_x, den_y = [], []
for k, (a, b, h) in enumerate(dendro_merges):
    xa_, ya_ = node_pos[a]
    xb_, yb_ = node_pos[b]
    den_x += [xa_, h, h, xb_, None]
    den_y += [ya_, ya_, yb_, yb_, None]
    node_pos[25 + k] = (h, (ya_ + yb_) / 2)
fig.add_trace(go.Scatter(x=den_x, y=den_y, xaxis=xa3, yaxis=ya3, mode="lines", hoverinfo="skip", showlegend=False,
                         line=dict(color="#222222", width=1.3)))

# ---- H ----
add_text(836, 1122, "<b>H</b>", 27)
xa4, ya4 = new_axes(820, 1567, 1060, 1800, [820, 1567], [1800, 1060])
edge_x, edge_y = [], []
for tx, ty, members in zip(term_x, term_y, term_edges):
    for g in members:
        edge_x += [tx, gene_nodes[g][0], None]
        edge_y += [ty, gene_nodes[g][1], None]
fig.add_trace(go.Scatter(x=edge_x, y=edge_y, xaxis=xa4, yaxis=ya4, mode="lines", hoverinfo="skip", showlegend=False,
                         line=dict(color="#BDBDBD", width=1.1)))
fig.add_trace(go.Scatter(x=term_x, y=term_y, xaxis=xa4, yaxis=ya4, mode="markers", hoverinfo="skip", showlegend=False,
                         marker=dict(size=term_size, color="#EBC797", opacity=1)))
names = list(gene_nodes)
fig.add_trace(go.Scatter(
    x=[gene_nodes[g][0] for g in names], y=[gene_nodes[g][1] for g in names], xaxis=xa4, yaxis=ya4, mode="markers",
    hoverinfo="skip", showlegend=False,
    marker=dict(size=8, color=[gene_nodes[g][2] for g in names], cmin=-.76, cmax=1.23, colorscale="Viridis", showscale=True,
                colorbar=dict(x=1483 / W, xanchor="left", y=1 - 1687 / H, yanchor="top", len=85, lenmode="pixels", thickness=16,
                              thicknessmode="pixels", outlinewidth=0, xpad=0, ypad=0, tickvals=[1, .5, 0, -.5],
                              ticktext=["1.0", "0.5", "0.0", "-0.5"], ticks="inside", ticklen=3, tickcolor="white",
                              tickfont=dict(size=16, family=FONT, color="black")))))
for g in names:
    annotations.append(dict(x=gene_nodes[g][3], y=gene_nodes[g][4], xref=xa4, yref=ya4, text=g, showarrow=False,
                            font=dict(size=15.3, family=FONT, color="black")))
for name, lx, ly in zip(term_names, term_label_x, term_label_y):
    annotations.append(dict(x=lx, y=ly, xref=xa4, yref=ya4, text=name, showarrow=False,
                            font=dict(size=20.4, family=FONT, color="black")))
fig.add_trace(go.Scatter(x=[1493] * 5, y=size_legend_y, xaxis=xa4, yaxis=ya4, mode="markers", hoverinfo="skip", showlegend=False,
                         marker=dict(size=size_legend_d, color="black", opacity=1)))
for y, v in zip(size_legend_y, size_legend):
    add_text(1519, y, str(v), 16, "center")
add_text(1500, 1538, "Size", 19, "center")
add_text(1506, 1673, "Score", 19, "center")

fig.update_layout(width=W, height=H, margin=dict(l=0, r=0, t=0, b=0), paper_bgcolor="white", plot_bgcolor="rgba(0,0,0,0)",
                  showlegend=False, annotations=annotations, shapes=shapes, font=dict(family=FONT))
fig.write_html("out.html", post_script="document.body.style.margin='0';", config={"displayModeBar": False})
